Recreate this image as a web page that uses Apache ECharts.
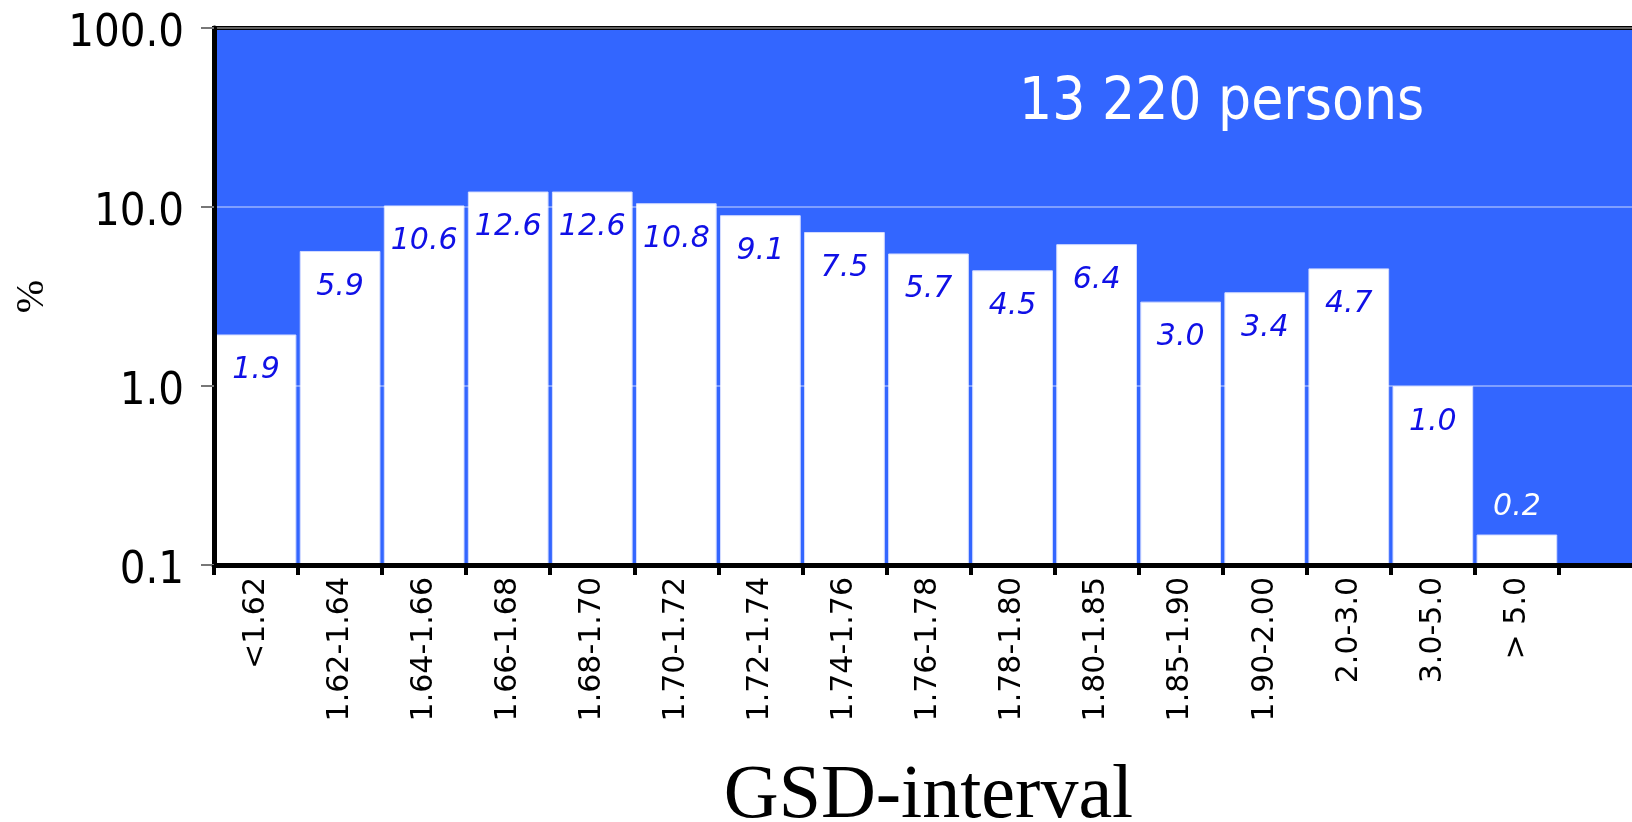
<!DOCTYPE html>
<html>
<head>
<meta charset="utf-8">
<script src="https://cdn.jsdelivr.net/npm/echarts@6/dist/echarts.min.js"></script>
<style>
  html, body { margin: 0; padding: 0; background: #fff; }
  #main { width: 1632px; height: 822px; }
</style>
</head>
<body>
<div id="main"></div>
<script>
// GSD intervals (x categories)
var categories = ['<1.62', '1.62-1.64', '1.64-1.66', '1.66-1.68', '1.68-1.70', '1.70-1.72',
  '1.72-1.74', '1.74-1.76', '1.76-1.78', '1.78-1.80', '1.80-1.85', '1.85-1.90',
  '1.90-2.00', '2.0-3.0', '3.0-5.0', '> 5.0'];
// bar heights (%)
var barValues = [1.94, 5.68, 10.2, 12.2, 12.2, 10.5, 9.0, 7.25, 5.5, 4.43, 6.2, 2.96, 3.34, 4.54, 1.0, 0.148];
// printed value labels
var valueLabels = ['1.9', '5.9', '10.6', '12.6', '12.6', '10.8', '9.1', '7.5', '5.7', '4.5', '6.4', '3.0', '3.4', '4.7', '1.0', '0.2'];
// y ticks
var yTicks = [0.1, 1, 10, 100];
var totalText = '13 220 persons';

var FONT = 'DejaVu Sans';
var FONT_C = 'DejaVu Sans Condensed';
var BLUE = '#3366ff';
var yMin = yTicks[0];

var myChart = echarts.init(document.getElementById('main'));

// last band is empty, plot continues past the right edge
var axisCats = categories.concat(['']);

// log axis bars grow from 1 by default, so stack them on an invisible
// base at the axis minimum so they rise from the bottom
var baseData = barValues.map(function () { return yMin; });
var seriesData = barValues.map(function (v, i) {
  var item = { value: v - yMin, label: { formatter: valueLabels[i] } };
  if (v < 0.5) { // too short: label sits above the bar
    item.label.position = 'top';
    item.label.distance = 12;
    item.label.color = '#fff';
  }
  return item;
});

myChart.setOption({
  animation: false,
  title: {
    text: totalText,
    left: 1014,
    top: 70,
    textStyle: { color: '#fff', fontFamily: FONT_C, fontSize: 58, fontWeight: 'normal' }
  },
  grid: {
    left: 214, top: 28, bottom: 257, right: -11,
    outerBoundsMode: 'none',
    containLabel: false,
    show: true, backgroundColor: BLUE, borderColor: '#000', borderWidth: 4
  },
  xAxis: {
    type: 'category',
    data: axisCats,
    z: 10,
    name: 'GSD-interval',
    nameLocation: 'middle',
    nameGap: 194,
    nameTextStyle: { fontFamily: 'Liberation Serif', fontSize: 76, color: '#000' },
    axisLine: { onZero: false, lineStyle: { color: '#000', width: 5 } },
    axisTick: { show: true, interval: 0, inside: false, length: 10, lineStyle: { color: '#000', width: 4 } },
    axisLabel: {
      interval: 0, rotate: 90, margin: 12,
      fontFamily: FONT, fontSize: 30, color: '#000'
    }
  },
  yAxis: {
    type: 'log',
    logBase: 10,
    min: yMin,
    max: yTicks[yTicks.length - 1],
    z: 10,
    name: '%',
    nameLocation: 'middle',
    nameRotate: 90,
    nameGap: 162,
    nameTextStyle: { fontFamily: 'Liberation Serif', fontSize: 40, color: '#000' },
    axisLine: { show: true, onZero: false, lineStyle: { color: '#000', width: 5 } },
    axisTick: { show: true, length: 13, lineStyle: { color: '#777', width: 2 } },
    axisLabel: {
      margin: 30, verticalAlign: 'top', lineHeight: 12,
      fontFamily: FONT_C, fontSize: 45, color: '#000',
      formatter: function (v) { return v.toFixed(1); }
    },
    splitLine: { show: true, lineStyle: { color: 'rgba(255,255,255,0.5)', width: 1.5 } }
  },
  series: [{
    type: 'bar',
    stack: 'pct',
    silent: true,
    data: baseData,
    barCategoryGap: '4%',
    itemStyle: { color: 'rgba(0,0,0,0)' }
  }, {
    type: 'bar',
    stack: 'pct',
    data: seriesData,
    barCategoryGap: '4%',
    itemStyle: { color: '#fff', borderColor: '#d4dcff', borderWidth: 1 },
    label: {
      show: true,
      position: 'insideTop',
      distance: 21,
      color: '#1010e6',
      fontFamily: FONT,
      fontStyle: 'italic',
      fontSize: 30
    }
  }]
});
</script>
</body>
</html>
